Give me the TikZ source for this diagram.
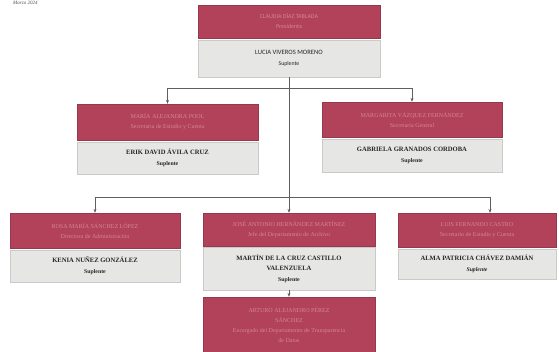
\documentclass[tikz,border=0pt]{standalone}
\usepackage{fontspec}
\setmainfont{Liberation Serif}
\newfontfamily\calib{Carlito}
\usetikzlibrary{arrows.meta}
\definecolor{rosered}{RGB}{178,66,90}
\definecolor{pinktxt}{RGB}{214,132,150}
\definecolor{graybg}{RGB}{230,230,228}
\definecolor{lineg}{RGB}{95,95,95}
\tikzset{
  redbox/.style={fill=rosered,draw=rosered!85!black,line width=0.3pt,inner sep=2pt,align=center,text=pinktxt,font=\fontsize{6}{10}\selectfont},
  graybox/.style={fill=graybg,draw=graybg!88!black,line width=0.3pt,inner sep=2pt,align=center,text=black!85,font=\bfseries\fontsize{6.6}{10.5}\selectfont},
  conn/.style={draw=lineg,line width=0.6pt},
  arr/.style={conn,-{Stealth[length=4pt,width=3pt]}},
}
\begin{document}
\begin{tikzpicture}[x=1pt,y=-1pt]
\useasboundingbox (0,0) rectangle (559,352);
\fill[white] (0,0) rectangle (559,352);
\node[anchor=north west,font=\itshape\fontsize{5}{6}\selectfont,text=black!70,inner sep=0pt] (fecha) at (13,1) {Marzo 2024};
% level 1
\node[redbox,minimum width=182pt,minimum height=33pt] (p1r) at (289,21.5) {\calib CLAUDIA DÍAZ TABLADA\\ \calib Presidenta};
\node[graybox,minimum width=182pt,minimum height=37pt] (p1g) at (289,58.5) {\calib\mdseries LUCIA VIVEROS MORENO\\ {\calib\mdseries\fontsize{5.8}{7}\selectfont Suplente}};
% level 2
\node[redbox,minimum width=181pt,minimum height=36pt] (l2r) at (167.5,122) {MARÍA ALEJANDRA POOL\\ Secretaria de Estudio y Cuenta};
\node[graybox,minimum width=181pt,minimum height=32pt] (l2g) at (167.5,158) {ERIK DAVID ÁVILA CRUZ\\ {\fontsize{5.8}{7}\selectfont Suplente}};
\node[redbox,minimum width=180pt,minimum height=35pt] (r2r) at (412,119.5) {MARGARITA VÁZQUEZ FERNÁNDEZ\\ Secretaria General};
\node[graybox,minimum width=180pt,minimum height=33pt] (r2g) at (412,155.5) {GABRIELA GRANADOS CORDOBA\\ {\fontsize{5.8}{7}\selectfont Suplente}};
% level 3
\node[redbox,minimum width=170pt,minimum height=35pt] (l3r) at (95,230.5) {ROSA MARÍA SÁNCHEZ LÓPEZ\\ Directora de Administración};
\node[graybox,minimum width=170pt,minimum height=32pt] (l3g) at (95,266) {KENIA NUÑEZ GONZÁLEZ\\ {\fontsize{5.8}{7}\selectfont Suplente}};
\node[redbox,minimum width=172pt,minimum height=33pt] (m3r) at (289,229.5) {JOSÉ ANTONIO HERNÁNDEZ MARTÍNEZ\\ Jefe del Departamento de Archivo};
\node[graybox,minimum width=172pt,minimum height=43pt] (m3g) at (289,268.5) {MARTÍN DE LA CRUZ CASTILLO\\ VALENZUELA\\ {\fontsize{5.8}{7}\selectfont Suplente}};
\node[redbox,minimum width=158pt,minimum height=34pt] (r3r) at (477,230) {LUIS FERNANDO CASTRO\\ Secretario de Estudio y Cuenta};
\node[graybox,minimum width=158pt,minimum height=30pt] (r3g) at (477,264) {ALMA PATRICIA CHÁVEZ DAMIÁN\\ {\itshape\fontsize{5.8}{7}\selectfont Suplente}};
% level 4
\node[redbox,minimum width=172pt,minimum height=55pt] (b4r) at (289,324.5) {ARTURO ALEJANDRO PÉREZ\\ SÁNCHEZ\\ Encargado del Departamento de Transparencia\\ de Datos};
% connectors
\coordinate (j1) at (289,88);
\coordinate (j2) at (289,197);
\coordinate (r3in) at (490,213);
\draw[arr] (p1g.south) -- (m3r.north);
\draw[arr] (j1) -| (l2r.north);
\draw[arr] (j1) -| (r2r.north);
\draw[arr] (j2) -| (l3r.north);
\draw[arr] (j2) -| (r3in);
\draw[arr] (m3g.south) -- (b4r.north);
\end{tikzpicture}
\end{document}
